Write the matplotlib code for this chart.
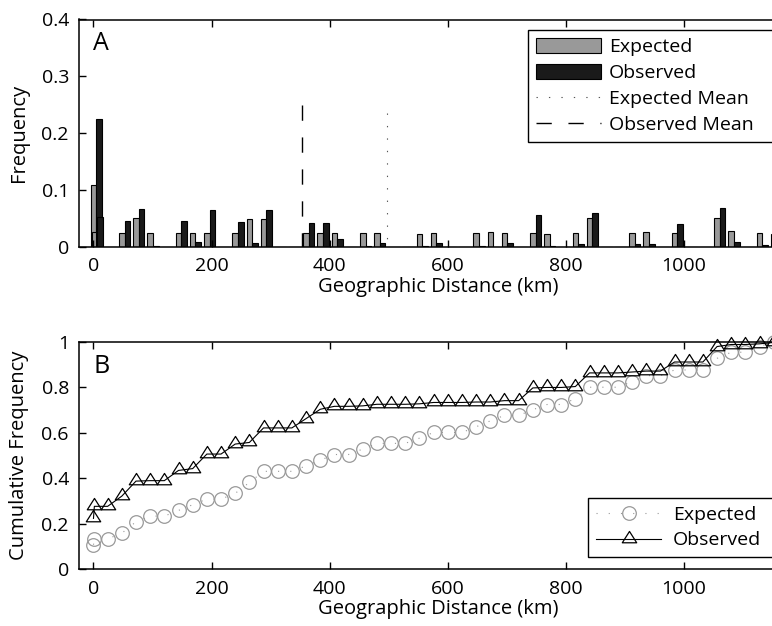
import numpy as np
import matplotlib
matplotlib.use("Agg")
import matplotlib.pyplot as plt
from matplotlib.patches import Patch
from matplotlib.lines import Line2D
from matplotlib.path import Path

plt.rcParams['font.family'] = ['Open Sans', 'DejaVu Sans']
plt.rcParams['font.size'] = 14

# distance bins (km); the first bin holds two records
distance = [0, 1.5, 24, 48, 72, 96, 120, 144, 168, 192, 216, 240, 264, 288,
            312, 336, 360, 384, 408, 432, 456, 480, 504, 528, 552, 576, 600,
            624, 648, 672, 696, 720, 744, 768, 792, 816, 840, 864, 888, 912,
            936, 960, 984, 1008, 1032, 1056, 1080, 1104, 1128, 1152]

expected = [0.108, 0.026, 0, 0.025, 0.050, 0.025, 0, 0.025, 0.025, 0.025,
            0, 0.025, 0.048, 0.049, 0, 0, 0.024, 0.025, 0.025, 0, 0.024,
            0.025, 0, 0, 0.023, 0.025, 0, 0, 0.025, 0.026, 0.024, 0, 0.025,
            0.023, 0, 0.025, 0.051, 0, 0, 0.025, 0.026, 0, 0.025, 0, 0,
            0.051, 0.027, 0, 0.025, 0.022]

observed = [0.224, 0.053, 0, 0.045, 0.066, 0.002, 0, 0.045, 0.008, 0.064,
            0, 0.044, 0.007, 0.064, 0, 0, 0.041, 0.041, 0.013, 0, 0.002,
            0.007, 0, 0, 0.002, 0.006, 0, 0, 0.002, 0, 0.006, 0, 0.056,
            0.002, 0, 0.004, 0.060, 0, 0, 0.004, 0.004, 0, 0.040, 0, 0,
            0.068, 0.009, 0, 0.003, 0.006]

expected_mean = 497
observed_mean = 353

W, H = 772, 626
fig = plt.figure(figsize=(W / 100, H / 100), dpi=100)

left = 79.3
right = 796.2
axA = fig.add_axes([left / W, (H - 246.7) / H, (right - left) / W, 227.2 / H])
axB = fig.add_axes([left / W, (H - 569.3) / H, (right - left) / W, 227.3 / H])

grey = '#999999'
bw = 9.5
label_size = 14.5

# --- panel A: frequencies
d = np.array(distance)
axA.bar(d, expected, width=bw, color=grey, edgecolor='k', linewidth=0.8)
axA.bar(d + bw, observed, width=bw, color='#1a1a1a', edgecolor='k', linewidth=0.8)
axA.plot([expected_mean, expected_mean], [0.235, 0], color='#555555', lw=0.8,
         linestyle=(0, (1.2, 10)))
axA.plot([observed_mean, observed_mean], [0.25, 0], color='k', lw=1.0,
         linestyle=(0, (11, 12)))

axA.set_xlim(-24, 1190)
axA.set_ylim(0, 0.4)
axA.set_xticks([0, 200, 400, 600, 800, 1000])
axA.set_yticks([0, 0.1, 0.2, 0.3, 0.4])
axA.set_yticklabels(['0', '0.1', '0.2', '0.3', '0.4'])
axA.set_xlabel('Geographic Distance (km)', fontsize=label_size, labelpad=1)
axA.set_ylabel('Frequency', fontsize=label_size, labelpad=9)

handles = [Patch(facecolor=grey, edgecolor='k', linewidth=0.8),
           Patch(facecolor='#1a1a1a', edgecolor='k', linewidth=0.8),
           Line2D([0], [0], color='#555555', lw=0.8, linestyle=(0, (1.2, 10))),
           Line2D([0], [0], color='k', lw=1.0, linestyle=(0, (11, 12)))]
legA = axA.legend(handles, ['Expected', 'Observed', 'Expected Mean', 'Observed Mean'],
                  loc='upper left', bbox_to_anchor=(528 / W, 0, (805 - 528) / W, (H - 30) / H),
                  bbox_transform=fig.transFigure, mode='expand', borderaxespad=0,
                  fancybox=False, framealpha=1, edgecolor='k', handlelength=3.35,
                  handleheight=0.85, handletextpad=0.41, labelspacing=0.38, borderpad=0.4)
legA.get_frame().set_linewidth(1.0)

# --- panel B: cumulative frequencies
tri = Path([(0, 0.71), (-0.635, -0.29), (0.635, -0.29), (0, 0.71)],
           [Path.MOVETO, Path.LINETO, Path.LINETO, Path.CLOSEPOLY])

lE, = axB.plot(d, np.cumsum(expected), color=grey, lw=0.8, linestyle=(0, (1, 10)),
               marker='o', ms=9.8, mfc='none', mec=grey, mew=0.9, clip_on=False)
lO, = axB.plot(d, np.cumsum(observed), color='k', lw=0.8, linestyle='-',
               marker=tri, ms=11.6, mfc='none', mec='k', mew=0.9, clip_on=False)

axB.set_xlim(-24, 1190)
axB.set_ylim(0, 1)
axB.set_xticks([0, 200, 400, 600, 800, 1000])
axB.set_yticks([0, 0.2, 0.4, 0.6, 0.8, 1])
axB.set_yticklabels(['0', '0.2', '0.4', '0.6', '0.8', '1'])
axB.set_xlabel('Geographic Distance (km)', fontsize=label_size, labelpad=1)
axB.set_ylabel('Cumulative Frequency', fontsize=label_size, labelpad=9)

legB = axB.legend([lE, lO], ['Expected', 'Observed'], loc='upper left',
                  bbox_to_anchor=(588.3 / W, 0, (805 - 588.3) / W, (H - 498.3) / H),
                  bbox_transform=fig.transFigure, mode='expand', borderaxespad=0,
                  fancybox=False, framealpha=1, edgecolor='k', handlelength=3.35,
                  handletextpad=0.6, labelspacing=0.38, borderpad=0.4, numpoints=1)
legB.get_frame().set_linewidth(1.0)

for ax in (axA, axB):
    ax.tick_params(direction='in', length=5, width=1, top=True, right=True, pad=7.5)
    for s in ax.spines.values():
        s.set_linewidth(1.1)

fig.text(93 / W, 1 - 50 / H, 'A', fontsize=18, va='baseline')
fig.text(93 / W, 1 - 373 / H, 'B', fontsize=18, va='baseline')

fig.savefig('out.png', dpi=100)
